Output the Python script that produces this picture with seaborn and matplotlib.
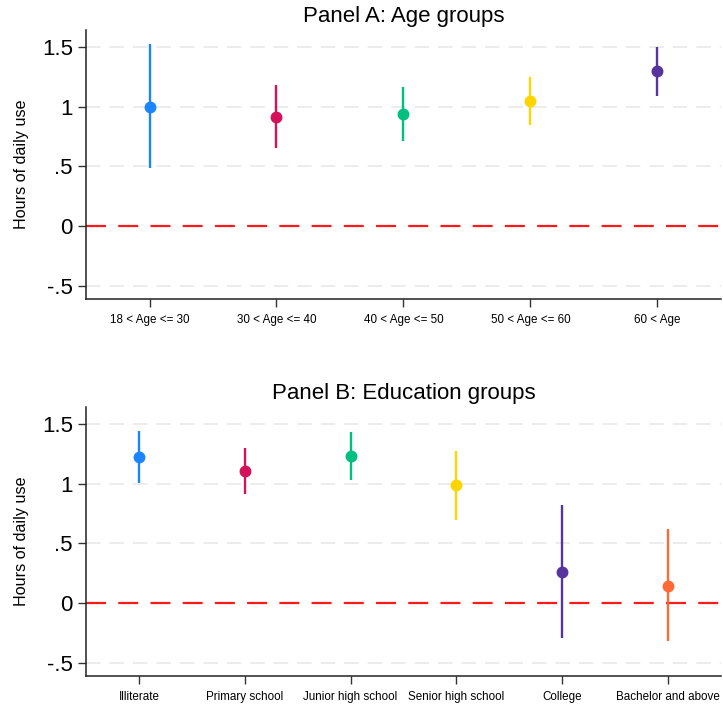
import matplotlib
matplotlib.use("Agg")
import matplotlib.pyplot as plt
import seaborn as sns
import pandas as pd

# ---- data ----
age_groups = ["18 < Age <= 30", "30 < Age <= 40", "40 < Age <= 50", "50 < Age <= 60", "60 < Age"]
age_est = [1.00, 0.915, 0.935, 1.045, 1.295]
age_lo = [0.485, 0.655, 0.708, 0.845, 1.09]
age_hi = [1.525, 1.178, 1.163, 1.25, 1.495]

edu_groups = ["Illiterate", "Primary school", "Junior high school", "Senior high school",
              "College", "Bachelor and above"]
edu_est = [1.225, 1.108, 1.231, 0.989, 0.264, 0.148]
edu_lo = [1.008, 0.917, 1.033, 0.695, -0.294, -0.319]
edu_hi = [1.442, 1.30, 1.433, 1.278, 0.822, 0.617]

colors = ["#1a85ff", "#d41159", "#00bf7f", "#ffd400", "#56339d", "#fe6a35"]

yticks = [-0.5, 0, 0.5, 1, 1.5]
yticklabels = ["-.5", "0", ".5", "1", "1.5"]

titles = ["Panel A: Age groups", "Panel B: Education groups"]
ylabel = "Hours of daily use"

sns.set_style("white")
plt.rcParams["font.family"] = ["Liberation Sans", "DejaVu Sans"]
plt.rcParams["text.color"] = "black"
plt.rcParams["axes.labelcolor"] = "black"
plt.rcParams["xtick.labelcolor"] = "black"
plt.rcParams["ytick.labelcolor"] = "black"

fig = plt.figure(figsize=(7.23, 7.09), dpi=100)
axA = fig.add_axes([0.119, 0.5783, 0.878, 0.3794])
axB = fig.add_axes([0.119, 0.0465, 0.878, 0.379])


def long_df(groups, lo, est, hi):
    rows = []
    for g, l, e, h in zip(groups, lo, est, hi):
        for v in (l, e, h):
            rows.append({"group": g, "val": v})
    return pd.DataFrame(rows)


def draw(ax, groups, lo, est, hi, title):
    df = long_df(groups, lo, est, hi)
    for y in yticks:
        if y == 0:
            continue
        ax.axhline(y, color="#ebebeb", lw=1.3, dashes=(8, 5), zorder=0)
    ax.axhline(0, color="#ff1a1a", lw=1.6, dashes=(9, 5.5), zorder=1)
    sns.pointplot(data=df, x="group", y="val", hue="group", order=groups,
                  hue_order=groups, palette=colors[:len(groups)],
                  estimator="median", errorbar=("pi", 100), linestyle="none",
                  markers="o", markersize=6.5, dodge=False, legend=False,
                  err_kws={"linewidth": 1.7, "solid_capstyle": "butt"}, ax=ax)
    ax.set_xlim(-0.5, len(groups) - 0.5)
    ax.set_ylim(-0.61, 1.64)
    ax.set_yticks(yticks)
    ax.set_yticklabels(yticklabels, fontsize=16)
    ax.tick_params(axis="y", length=6, width=1, color="#333333", pad=3.5, left=True)
    ax.tick_params(axis="x", length=6, width=1, color="#333333", pad=5, labelsize=8.4, bottom=True)
    ax.set_xlabel("")
    ax.set_ylabel(ylabel, fontsize=11.6, labelpad=9)
    ax.set_title(title, fontsize=16, pad=6)
    for s in ["top", "right"]:
        ax.spines[s].set_visible(False)
    for s in ["left", "bottom"]:
        ax.spines[s].set_color("#222222")
        ax.spines[s].set_linewidth(1.1)


draw(axA, age_groups, age_lo, age_est, age_hi, titles[0])
draw(axB, edu_groups, edu_lo, edu_est, edu_hi, titles[1])

fig.savefig("out.png", dpi=100, facecolor="white")
